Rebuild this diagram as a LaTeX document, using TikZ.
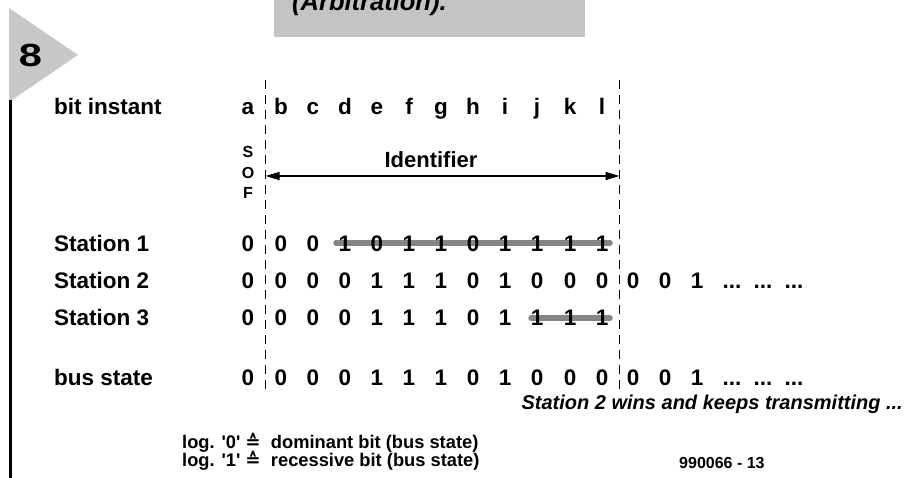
\documentclass[tikz,border=0pt]{standalone}
\usepackage{fontspec}
\setmainfont{Liberation Sans}
\newfontfamily\symfont{DejaVu Sans}
\usetikzlibrary{arrows.meta}
\definecolor{panelgray}{HTML}{C4C4C4}
\definecolor{flaggray}{HTML}{C8C8C8}
\definecolor{strikegray}{HTML}{858585}
\begin{document}
\begin{tikzpicture}[x=1pt,y=-1pt,
  rowlabel/.style={font=\bfseries\fontsize{22.5}{26}\selectfont, anchor=base west, inner sep=0pt},
  bitv/.style={font=\bfseries\fontsize{22.5}{26}\selectfont, anchor=base, inner sep=0pt},
  sofletter/.style={font=\bfseries\fontsize{16}{18}\selectfont, anchor=base, inner sep=0pt},
  legendtext/.style={font=\bfseries\fontsize{18.3}{20}\selectfont, anchor=base west, inner sep=0pt},
  boundary/.style={line width=1.6pt, dash pattern=on 9pt off 6pt},
  lost/.style={line width=5.5pt, strikegray, line cap=round},
  idarrow/.style={line width=1.4pt, {Triangle[length=14pt,width=8pt]}-{Triangle[length=14pt,width=8pt]}}]
\useasboundingbox (0,0) rectangle (915,477);
\clip (0,0) rectangle (915,477);

% title panel
\fill[panelgray] (274,-5) rectangle (585,37);
\node[anchor=base west, inner sep=0pt, font=\bfseries\itshape\fontsize{25.5}{28}\selectfont] (title) at (292,10) {(Arbitration).};

% figure flag and frame edge
\fill[flaggray] (9,8) -- (78,55) -- (9,102) -- cycle;
\node[anchor=base, inner sep=0pt, font=\bfseries\fontsize{32}{36}\selectfont] (fignum) at (30.5,66) {\scalebox{1.3}[1]{8}};
\coordinate (edgeT) at (10.7,100);
\coordinate (edgeB) at (10.7,480);
\draw[line width=3.2pt] (edgeT) -- (edgeB);

% row labels
\node[rowlabel] (lbit) at (54,114) {bit instant};
\node[rowlabel] (ls1) at (54,251) {Station 1};
\node[rowlabel] (ls2) at (54,288) {Station 2};
\node[rowlabel] (ls3) at (54,325) {Station 3};
\node[rowlabel] (lbus) at (54,385) {bus state};

% bit instants
\foreach \x/\c in {248/a,281/b,313/c,345/d,377/e,409/f,441/g,473/h,505/i,537/j,570/k,602/l}
  \node[bitv] (bi-\c) at (\x,114) {\c};

% start of frame
\node[sofletter] (sofS) at (248,157) {S};
\node[sofletter] (sofO) at (248,178) {O};
\node[sofletter] (sofF) at (248,198) {F};

% identifier field boundaries
\coordinate (leftT) at (265.5,80);
\coordinate (leftB) at (265.5,393);
\coordinate (rightT) at (619.5,80);
\coordinate (rightB) at (619.5,393);
\draw[boundary] (leftT) -- (leftB);
\draw[boundary] (rightT) -- (rightB);
\coordinate (idL) at (265.5,176);
\coordinate (idR) at (619.5,176);
\draw[idarrow] (idL) -- (idR);
\node[anchor=base, inner sep=0pt, font=\bfseries\fontsize{22}{25}\selectfont] (ident) at (431,167) {Identifier};

% stations that lose arbitration
\coordinate (s1a) at (336,243);
\coordinate (s1b) at (610,243);
\coordinate (s3a) at (531,318);
\coordinate (s3b) at (610,318);
\draw[lost] (s1a) -- (s1b);
\draw[lost] (s3a) -- (s3b);

% bit values
\foreach \x/\v [count=\k] in {248/0,281/0,313/0,345/1,377/0,409/1,441/1,473/0,505/1,537/1,570/1,602/1}
  \node[bitv] (s1-\k) at (\x,251) {\v};
\foreach \x/\v [count=\k] in {248/0,281/0,313/0,345/0,377/1,409/1,441/1,473/0,505/1,537/0,570/0,602/0,633/0,665/0,697/1}
  \node[bitv] (s2-\k) at (\x,288) {\v};
\foreach \x/\v [count=\k] in {248/0,281/0,313/0,345/0,377/1,409/1,441/1,473/0,505/1,537/1,570/1,602/1}
  \node[bitv] (s3-\k) at (\x,325) {\v};
\foreach \x/\v [count=\k] in {248/0,281/0,313/0,345/0,377/1,409/1,441/1,473/0,505/1,537/0,570/0,602/0,633/0,665/0,697/1}
  \node[bitv] (bus-\k) at (\x,385) {\v};
\foreach \x [count=\k] in {732,763,794} {
  \node[bitv] (s2dots-\k) at (\x,288) {...};
  \node[bitv] (busdots-\k) at (\x,385) {...};
}

% notes
\node[anchor=base east, inner sep=0pt, font=\bfseries\itshape\fontsize{20}{23}\selectfont] (wins) at (903,409) {Station 2 wins and keeps transmitting ...};
\node[legendtext] (leg0) at (182,448) {log. \textquotesingle0\textquotesingle\ {\symfont ≙}\ \ dominant bit (bus state)};
\node[legendtext] (leg1) at (182,466) {log. \textquotesingle1\textquotesingle\ {\symfont ≙}\ \ recessive bit (bus state)};
\node[anchor=base west, inner sep=0pt, font=\bfseries\fontsize{16}{19}\selectfont] (code) at (679,468) {990066 - 13};
\end{tikzpicture}
\end{document}
